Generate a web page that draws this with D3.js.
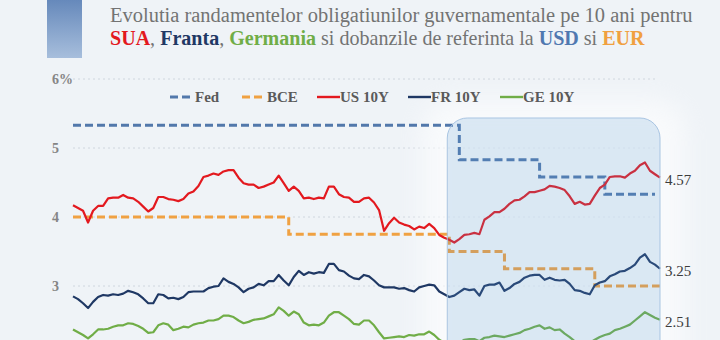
<!DOCTYPE html>
<html>
<head>
<meta charset="utf-8">
<script src="https://cdn.jsdelivr.net/npm/d3@7"></script>
<style>
  html, body { margin: 0; padding: 0; background: #eff3f7; }
  svg { display: block; font-family: "Liberation Serif", "DejaVu Serif", serif; }
</style>
</head>
<body>
<svg id="chart" width="720" height="340"></svg>
<script>
// 10Y government bond yields (%), sampled at regular intervals
const us10y = [4.17,4.13,4.09,3.92,4.09,4.16,4.16,4.27,4.28,4.28,4.32,4.28,4.27,4.22,4.15,4.08,4.13,4.29,4.29,4.26,4.25,4.23,4.26,4.34,4.37,4.45,4.58,4.60,4.63,4.61,
  4.66,4.68,4.68,4.57,4.49,4.47,4.47,4.42,4.44,4.47,4.50,4.60,4.49,4.38,4.44,4.38,4.27,4.28,4.26,4.28,4.27,4.44,4.44,4.33,4.29,4.28,4.22,4.22,4.27,
  4.28,4.21,4.10,3.80,3.91,3.99,3.92,3.89,3.87,3.82,3.86,3.84,3.90,3.84,3.74,3.70,3.67,3.63,3.68,3.74,3.75,3.77,3.75,3.96,4.01,4.07,4.07,4.12,4.19,
  4.24,4.25,4.30,4.36,4.36,4.38,4.40,4.45,4.44,4.42,4.39,4.30,4.19,4.22,4.18,4.19,4.31,4.42,4.47,4.58,4.59,4.59,4.57,4.63,4.67,4.75,4.79,4.67,4.62,4.57];
const fr10y = [2.85,2.81,2.75,2.68,2.77,2.84,2.87,2.86,2.88,2.87,2.89,2.93,2.91,2.88,2.82,2.75,2.75,2.88,2.87,2.82,2.83,2.81,2.84,2.91,2.92,2.92,2.92,2.97,2.99,3.00,
  3.11,3.06,3.03,2.98,2.91,2.96,2.98,3.03,3.01,3.07,3.07,3.16,3.08,3.01,3.13,3.22,3.16,3.20,3.18,3.20,3.19,3.32,3.32,3.23,3.21,3.15,3.11,3.10,3.16,
  3.14,3.08,3.01,2.98,2.98,2.98,2.96,2.97,2.94,2.92,2.98,3.00,3.02,3.01,2.92,2.88,2.84,2.86,2.91,2.96,2.94,2.95,2.86,3.00,3.02,3.02,3.05,2.93,2.97,
  3.03,3.06,3.12,3.15,3.16,3.16,3.09,3.12,3.09,3.08,3.09,3.03,2.94,2.93,2.90,2.88,3.01,3.05,3.07,3.14,3.17,3.21,3.22,3.26,3.31,3.41,3.46,3.35,3.31,3.25];
const ge10y = [2.37,2.33,2.29,2.24,2.30,2.37,2.37,2.38,2.41,2.43,2.43,2.46,2.45,2.42,2.38,2.32,2.33,2.43,2.46,2.44,2.36,2.38,2.41,2.40,2.44,2.46,2.47,2.50,2.50,2.52,
  2.57,2.57,2.55,2.50,2.46,2.48,2.51,2.52,2.53,2.56,2.59,2.69,2.64,2.57,2.63,2.59,2.47,2.43,2.44,2.43,2.47,2.57,2.62,2.62,2.57,2.52,2.45,2.44,2.50,
  2.50,2.43,2.33,2.24,2.25,2.26,2.27,2.26,2.29,2.28,2.30,2.30,2.34,2.29,2.22,2.18,2.16,2.14,2.18,2.22,2.23,2.23,2.20,2.25,2.26,2.28,2.27,2.26,2.28,
  2.30,2.32,2.36,2.38,2.41,2.43,2.38,2.40,2.36,2.37,2.31,2.26,2.20,2.17,2.16,2.18,2.22,2.26,2.29,2.31,2.36,2.38,2.41,2.44,2.50,2.56,2.62,2.58,2.54,2.51];

// policy rates: sample index where each level starts, and the level
const fedIdx = [0, 77, 93, 106, 116];
const fedRate = [5.33, 4.83, 4.58, 4.33, 4.33];
const bceIdx = [0, 43, 75, 86, 104, 117];
const bceRate = [4.00, 3.75, 3.50, 3.25, 3.00, 3.00];

// y axis ticks and the highlighted easing period (sample indices)
const yTicks = [3, 4, 5, 6];
const easingSpan = [74.6, 117];

const legendNames = ['Fed', 'BCE', 'US 10Y', 'FR 10Y', 'GE 10Y'];
const titleLine1 = 'Evolutia randamentelor obligatiunilor guvernamentale pe 10 ani pentru';
const titleLine2 = [
  { t: 'SUA', c: '#e3191f', b: true }, { t: ', ', c: '#737373' },
  { t: 'Franta', c: '#1f3864', b: true }, { t: ', ', c: '#737373' },
  { t: 'Germania', c: '#70ad47', b: true }, { t: ' si dobanzile de referinta la ', c: '#737373' },
  { t: 'USD', c: '#4f78b0', b: true }, { t: ' si ', c: '#737373' },
  { t: 'EUR', c: '#f0a040', b: true }
];

const colors = { fed: '#5278ab', bce: '#f0a142', us: '#e3191f', fr: '#1f3864', ge: '#70ad47' };

const svg = d3.select('#chart');
const defs = svg.append('defs');

const x = d3.scaleLinear().domain([0, us10y.length - 1]).range([73, 660]);
const y = d3.scaleLinear().domain([2, 6]).range([355, 79]);

// header block
const grad = defs.append('linearGradient').attr('id', 'hdr').attr('x1', 0).attr('y1', 0).attr('x2', 0).attr('y2', 1);
grad.append('stop').attr('offset', '0%').attr('stop-color', '#6689bb');
grad.append('stop').attr('offset', '100%').attr('stop-color', '#a7bedc');
svg.append('rect').attr('x', 47).attr('y', 0).attr('width', 35).attr('height', 58).attr('fill', 'url(#hdr)');

// size each title line to its width
function fitText(sel, width) {
  sel.attr('font-size', 18);
  sel.attr('font-size', 18 * width / sel.node().getComputedTextLength());
}
const t1 = svg.append('text').attr('x', 110).attr('y', 22).attr('fill', '#737373').text(titleLine1);
fitText(t1, 583);
const t2 = svg.append('text').attr('x', 110).attr('y', 45);
t2.selectAll('tspan').data(titleLine2).join('tspan')
  .attr('fill', d => d.c)
  .attr('font-weight', d => d.b ? 'bold' : 'normal')
  .text(d => d.t);
fitText(t2, 535);

// gridlines and tick labels
svg.append('g').selectAll('line').data(yTicks).join('line')
  .attr('x1', 73).attr('x2', 658)
  .attr('y1', d => y(d)).attr('y2', d => y(d))
  .attr('stroke', '#cfd6de').attr('stroke-width', 1).attr('stroke-dasharray', '2,3');

svg.append('g').selectAll('text').data(yTicks).join('text')
  .attr('x', 52).attr('y', d => y(d) + 5)
  .attr('fill', '#858585').attr('font-size', 14).attr('font-weight', 'bold')
  .text(d => d === 6 ? d + '%' : d);

// soft glow around the highlighted period
const blur = defs.append('filter').attr('id', 'glow').attr('x', '-30%').attr('y', '-30%').attr('width', '160%').attr('height', '160%');
blur.append('feGaussianBlur').attr('stdDeviation', 12);
svg.append('rect')
  .attr('x', x(easingSpan[0]) - 25).attr('y', 100)
  .attr('width', x(easingSpan[1]) - x(easingSpan[0]) + 50).attr('height', 300)
  .attr('rx', 30).attr('fill', '#ffffff').attr('opacity', 0.6)
  .attr('filter', 'url(#glow)');

// policy rate steps
const step = d3.line().x(d => x(d[0])).y(d => y(d[1])).curve(d3.curveStepAfter);
[[fedIdx, fedRate, colors.fed], [bceIdx, bceRate, colors.bce]].forEach(([idx, val, c]) => {
  svg.append('path')
    .datum(d3.zip(idx, val))
    .attr('d', step)
    .attr('fill', 'none').attr('stroke', c)
    .attr('stroke-width', 3).attr('stroke-dasharray', '8,4');
});

// yield lines
const line = d3.line().x((d, i) => x(i)).y(d => y(d));
const series = [[ge10y, colors.ge], [fr10y, colors.fr], [us10y, colors.us]];
series.forEach(([vals, c]) => {
  svg.append('path')
    .datum(vals)
    .attr('d', line)
    .attr('fill', 'none').attr('stroke', c)
    .attr('stroke-width', 2.2).attr('stroke-linejoin', 'round');
});

// translucent panel over the easing period
svg.append('rect')
  .attr('x', x(easingSpan[0])).attr('y', 118)
  .attr('width', x(easingSpan[1]) - x(easingSpan[0])).attr('height', 260)
  .attr('rx', 20)
  .attr('fill', '#5b9bd5').attr('fill-opacity', 0.19)
  .attr('stroke', '#a9c5e2').attr('stroke-width', 1);

// end values
[us10y, fr10y, ge10y].forEach(vals => {
  const v = vals[vals.length - 1];
  svg.append('text')
    .attr('x', 665).attr('y', y(v) + 7)
    .attr('fill', '#3c3c3c').attr('font-size', 15)
    .text(v.toFixed(2));
});

// legend
const legendX = [170, 242, 317, 408, 500];
const legendColor = [colors.fed, colors.bce, colors.us, colors.fr, colors.ge];
const legend = svg.append('g').selectAll('g').data(legendNames).join('g')
  .attr('transform', (d, i) => `translate(${legendX[i]},97)`);
legend.append('line')
  .attr('x1', 0).attr('x2', (d, i) => i < 2 ? 20 : 23)
  .attr('stroke', (d, i) => legendColor[i])
  .attr('stroke-width', (d, i) => i < 2 ? 3 : 2.4)
  .attr('stroke-dasharray', (d, i) => i < 2 ? '8,4' : null);
legend.append('text')
  .attr('x', (d, i) => i < 2 ? 25 : 23).attr('y', 5)
  .attr('fill', '#5a5a5a').attr('font-size', 15).attr('font-weight', 'bold')
  .text(d => d);
</script>
</body>
</html>
